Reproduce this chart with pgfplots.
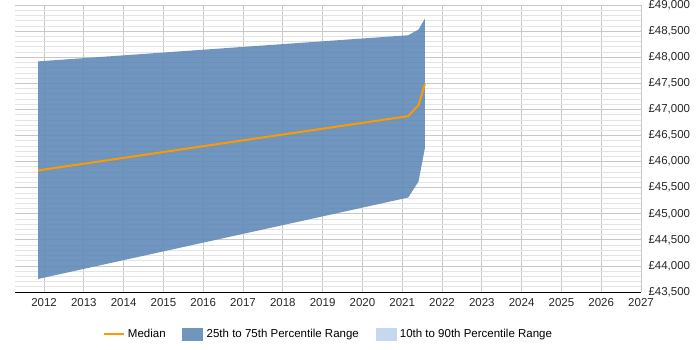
\documentclass[border=0pt]{standalone}
\usepackage{pgfplots}
\pgfplotsset{compat=1.18}
\usepgfplotslibrary{fillbetween}
\usepackage{fontspec}
\setmainfont{Liberation Sans}
\definecolor{iqr}{RGB}{96,138,183}
\definecolor{med}{RGB}{255,153,0}
\definecolor{dec}{RGB}{198,216,238}
\definecolor{majgrid}{RGB}{200,200,200}
\definecolor{mingrid}{RGB}{228,228,228}
\newcommand{\lblfont}{\fontsize{11.5}{13}\selectfont}
\begin{document}
\begin{tikzpicture}
\begin{axis}[name=ax, scale only axis, width=626pt, height=287pt,
  xmin=2011.27, xmax=2027, ymin=43500, ymax=49000,
  xtick={2012,2013,...,2027}, ytick={43500,44000,...,49000},
  minor y tick num=4,
  scaled y ticks=false, scaled x ticks=false,
  grid=both,
  major grid style={majgrid, line width=0.7pt},
  minor grid style={mingrid, line width=0.6pt},
  axis x line*=bottom, axis y line*=right,
  y axis line style={draw=none},
  x axis line style={black, line width=0.8pt, -},
  major tick length=0pt, minor tick length=0pt,
  /pgf/number format/assume math mode=true,
  x tick label style={/pgf/number format/1000 sep={}},
  yticklabel={£\pgfmathprintnumber[fixed,precision=0,1000 sep={,}]{\tick}},
  tick label style={font=\lblfont, text=black!85},
  xticklabel style={yshift=-3pt},
  yticklabel style={xshift=4pt},
  legend style={at={(0.5,-0.146)}, anchor=center, draw=none, fill=none,
    legend columns=3, font=\lblfont,
    /tikz/every even column/.append style={column sep=13pt}},
]
% interquartile band
\addplot[name path=upper, draw=none, forget plot] coordinates {
  (2011.85,47920) (2021.15,48420) (2021.41,48530) (2021.57,48740)};
\addplot[name path=lower, draw=none, forget plot] coordinates {
  (2011.85,43750) (2021.15,45310) (2021.41,45620) (2021.57,46260)};
\addplot[fill=iqr, fill opacity=0.9, draw=none, forget plot] fill between[of=upper and lower];
% median salary
\addplot[med, line width=2pt, forget plot] coordinates {
  (2011.85,45830) (2021.15,46870) (2021.41,47080) (2021.57,47490)};

\addlegendimage{legend image code/.code={\draw[med, line width=2.8pt] (0pt,0pt) -- (20pt,0pt); \path[draw=none, fill=none] (-2pt,0pt) -- (22pt,0pt);}}
\addlegendentry{Median}
\addlegendimage{legend image code/.code={\fill[iqr!90!white] (0pt,-6pt) rectangle (20pt,6pt); \path[draw=none, fill=none] (-2pt,0pt) -- (22pt,0pt);}}
\addlegendentry{25th to 75th Percentile Range}
\addlegendimage{legend image code/.code={\fill[dec] (0pt,-6pt) rectangle (20pt,6pt); \path[draw=none, fill=none] (-2pt,0pt) -- (22pt,0pt);}}
\addlegendentry{10th to 90th Percentile Range}
\end{axis}
\pgfresetboundingbox
\path (ax.south west) ++(-15pt,-58pt) rectangle ++(700pt,350pt);
\end{tikzpicture}
\end{document}
